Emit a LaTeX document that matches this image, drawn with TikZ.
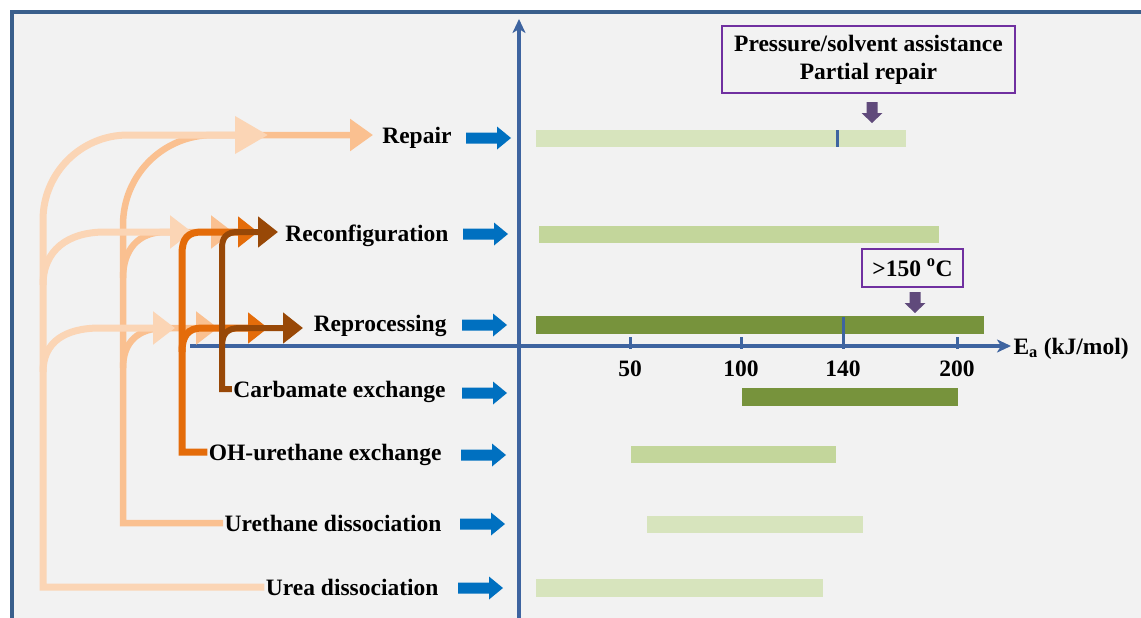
\documentclass[tikz,border=0pt]{standalone}
\usepackage{fontspec}
\setmainfont{Liberation Serif}
\usetikzlibrary{arrows.meta}
\definecolor{frameblue}{RGB}{58,95,140}
\definecolor{axisblue}{RGB}{62,100,160}
\definecolor{arrowblue}{RGB}{0,112,192}
\definecolor{cL}{RGB}{251,213,181}
\definecolor{cM}{RGB}{250,192,144}
\definecolor{cO}{RGB}{228,108,10}
\definecolor{cB}{RGB}{152,72,7}
\definecolor{gLight}{RGB}{215,228,189}
\definecolor{gMid}{RGB}{195,214,155}
\definecolor{gDark}{RGB}{119,147,60}
\definecolor{boxpurple}{RGB}{112,48,160}
\definecolor{downpurple}{RGB}{96,74,123}
\definecolor{bgray}{RGB}{242,242,242}
\tikzset{
  lab/.style={font=\fontsize{23.5}{28}\selectfont\bfseries, text height=16pt, text depth=0pt, inner sep=0pt, outer sep=1.5pt, anchor=east},
  num/.style={font=\fontsize{23.5}{28}\selectfont\bfseries, text height=16pt, text depth=0pt, inner sep=0pt},
  pbox/.style={draw=boxpurple, line width=2.5pt, align=center, inner sep=0pt, font=\fontsize{23.5}{28}\selectfont\bfseries},
  axis/.style={draw=axisblue, line width=3.2pt},
  tickmark/.style={draw=axisblue, line width=3pt},
  conL/.style={draw=cL, line width=7pt},
  conM/.style={draw=cM, line width=6.5pt},
  conO/.style={draw=cO, line width=7pt},
  conB/.style={draw=cB, line width=6pt},
  headS/.style={-{Triangle[length=22pt,width=32pt]}},
  headOB/.style={-{Triangle[length=20pt,width=30pt]}},
  headBig/.style={-{Triangle[length=33pt,width=36pt]}},
  headMid/.style={-{Triangle[length=23pt,width=31pt]}},
  barrow/.pic={\fill[arrowblue] (0,-5.5) -- (31,-5.5) -- (31,-11.5) -- (45,0) -- (31,11.5) -- (31,5.5) -- (0,5.5) -- cycle;},
  parrow/.pic={\fill[downpurple] (-5.5,0) -- (5.5,0) -- (5.5,11) -- (10.5,11) -- (0,21) -- (-10.5,11) -- (-5.5,11) -- cycle;}
}
\begin{document}
\begin{tikzpicture}[x=1pt,y=-1pt]
\useasboundingbox (0,0) rectangle (1141,618);
\fill[white] (0,0) rectangle (1141,618);
\draw[frameblue, line width=4pt, fill=bgray] (12,12) rectangle (1170,650);

% bars
\fill[gLight] (536,130) rectangle (906,147);
\fill[gMid]   (539,226) rectangle (939,243);
\fill[gDark]  (536,316) rectangle (984,334);
\fill[gDark]  (742,388) rectangle (958,406);
\fill[gMid]   (631,446) rectangle (836,463);
\fill[gLight] (647,516) rectangle (863,533);
\fill[gLight] (536,579) rectangle (823,597);

% axes
\coordinate (yaxB) at (519,640);
\coordinate (yaxT) at (519,19);
\coordinate (xaxL) at (190,346);
\coordinate (xaxR) at (1011,346);
\draw[axis, -{Stealth[length=14pt,width=13pt,inset=4pt]}] (yaxB) -- (yaxT);
\draw[axis, -{Stealth[length=14pt,width=13pt,inset=4pt]}] (xaxL) -- (xaxR);
\draw[tickmark] (630,337) -- (630,349);
\draw[tickmark] (741,337) -- (741,349);
\draw[tickmark] (843,317) -- (843,349);
\draw[tickmark] (957,337) -- (957,349);
\draw[tickmark] (837,130) -- (837,147);

\node[num] (t50) at (630,368) {50};
\node[num] (t100) at (741,368) {100};
\node[num] (t140) at (843,368) {140};
\node[num] (t200) at (957,368) {200};
\node[lab, anchor=west] (ea) at (1012,346) {E\textsubscript{a} (kJ/mol)};

% boxes
\node[pbox, minimum width=293pt, minimum height=67pt] (box1) at (868.5,59.5) {Pressure/solvent assistance\\Partial repair};
\node[pbox, minimum width=101pt, minimum height=38pt, text height=16pt, text depth=0pt] (box2) at (912.5,268) {>150 \textsuperscript{o}C};
\pic at (872,102) {parrow};
\pic at (915,292) {parrow};

% labels
\node[lab] (repair) at (453,135) {Repair};
\node[lab] (reconf) at (450,233) {Reconfiguration};
\node[lab] (reproc) at (448,323) {Reprocessing};
\node[lab] (carb) at (447,389) {Carbamate exchange};
\node[lab] (ohx) at (443,452) {OH-urethane exchange};
\node[lab] (ureth) at (443,523) {Urethane dissociation};
\node[lab] (urea) at (440,587) {Urea dissociation};

% blue arrows
\pic at (466,138) {barrow};
\pic at (463,234) {barrow};
\pic at (462,325) {barrow};
\pic at (462,393) {barrow};
\pic at (461,455) {barrow};
\pic at (460,524) {barrow};
\pic at (458,588) {barrow};

% arrow tip targets
\coordinate (repL) at (268,135);
\coordinate (repM) at (373,135);
\coordinate (rcfL) at (192,232);
\coordinate (rcfM) at (233,232);
\coordinate (rcfO) at (258,232);
\coordinate (rcfB) at (278,232);
\coordinate (rprL) at (175,328);
\coordinate (rprM) at (218,328);
\coordinate (rprO) at (268,328);
\coordinate (rprB) at (303,328);

% medium (urethane dissociation)
\draw[conM, headMid] (ureth.west) -| (123,225) .. controls (123,175) and (163,135) .. (213,135) -- (repM);
\draw[conM, headS] (123,278) .. controls (123,250) and (138,232) .. (165,232) -- (rcfM);
\draw[conM, headS] (123,368) .. controls (123,342) and (138,328) .. (165,328) -- (rprM);

% light (urea dissociation)
\draw[conL, headBig] (urea.west) -| (43,220) .. controls (43,173) and (81,135) .. (128,135) -- (repL);
\draw[conL, headS] (43,285) .. controls (43,250) and (68,232) .. (105,232) -- (rcfL);
\draw[conL, headS] (43,372) .. controls (43,342) and (65,328) .. (100,328) -- (rprL);

% orange (OH-urethane exchange)
\draw[conO, headOB] (ohx.west) -| (182,254) .. controls (182,238) and (188,232) .. (202,232) -- (rcfO);
\draw[conO, headOB] (182,352) .. controls (182,336) and (188,328) .. (202,328) -- (rprO);

% brown (carbamate exchange)
\draw[conB, headOB] (carb.west) -| (222,248) .. controls (222,238) and (226,232) .. (238,232) -- (rcfB);
\draw[conB, headOB] (222,346) .. controls (222,334) and (227,328) .. (240,328) -- (rprB);
\end{tikzpicture}
\end{document}
